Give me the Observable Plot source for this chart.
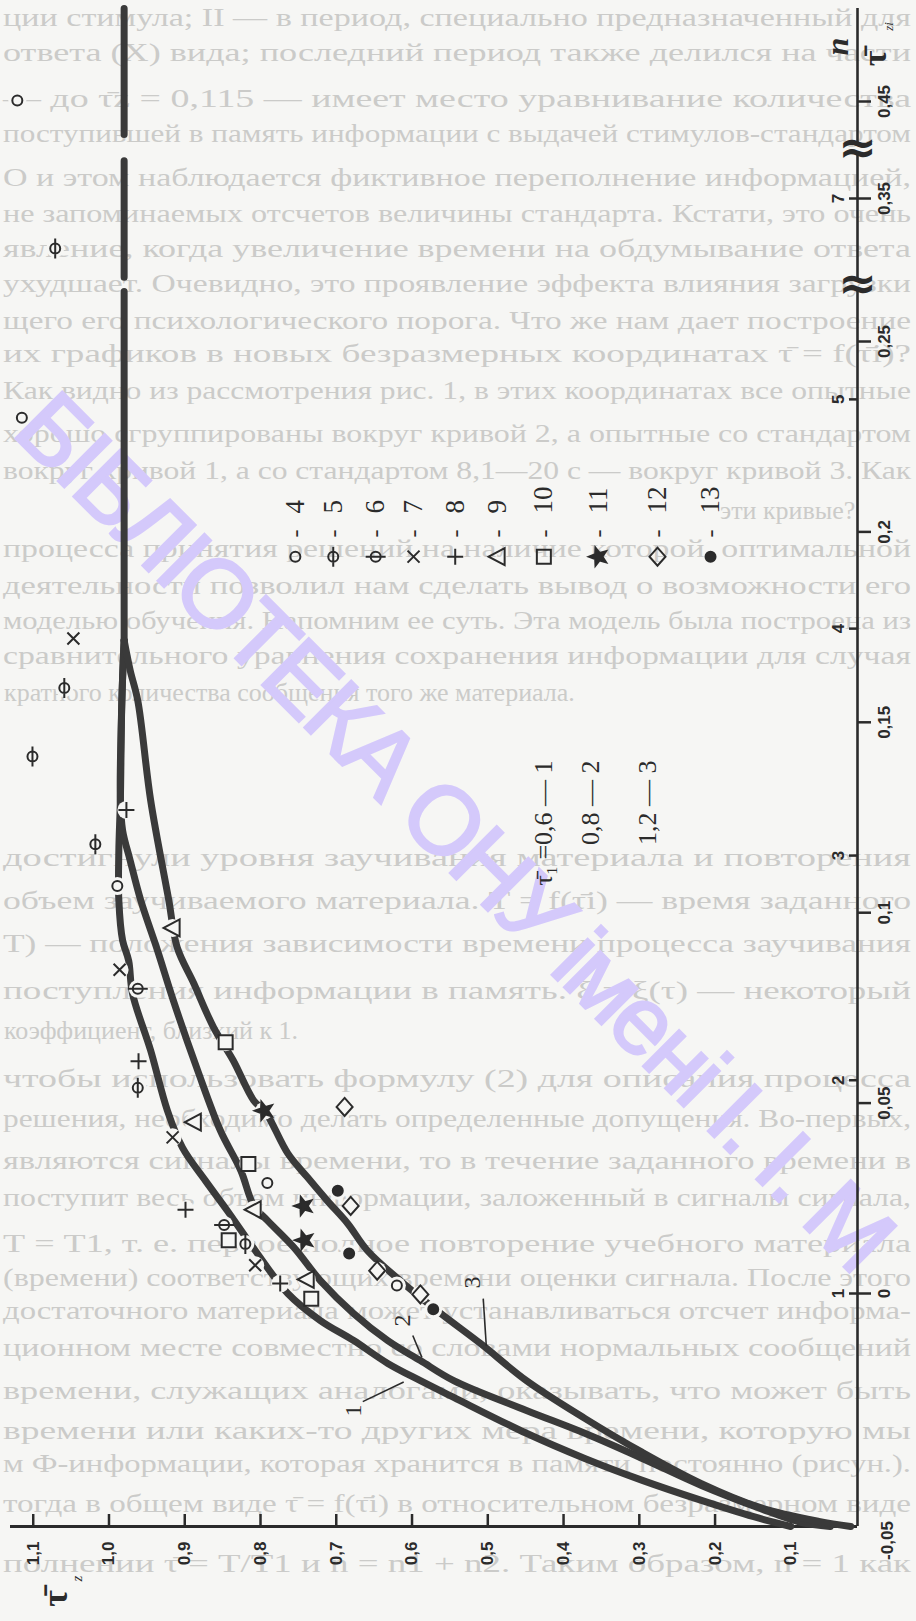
<!DOCTYPE html>
<html>
<head>
<meta charset="utf-8">
<script src="https://cdn.jsdelivr.net/npm/d3@7"></script>
<script src="https://cdn.jsdelivr.net/npm/@observablehq/plot@0.6"></script>
<style>
  html, body { margin: 0; padding: 0; background: #f6f6f4; }
  #wrap { position: relative; width: 916px; height: 1621px; overflow: hidden; background: #f6f6f4; }
  #wrap > svg, #wrap > div { position: absolute; left: 0; top: 0; }
</style>
</head>
<body>
<div id="wrap"></div>
<script>
// ---------------- DATA ----------------
// bottom axis: τ̄z (drawn reversed, 1,1 at left)
const xTicks = [1.1, 1.0, 0.9, 0.8, 0.7, 0.6, 0.5, 0.4, 0.3, 0.2, 0.1];
const xTickLabels = ["1,1", "1,0", "0,9", "0,8", "0,7", "0,6", "0,5", "0,4", "0,3", "0,2", "0,1"];
// right axis: τ̄zi (outer labels) and n (inner labels)
const ziTicks = [0, 0.05, 0.1, 0.15, 0.2, 0.25, 0.35, 0.45];
const ziTickLabels = ["0", "0,05", "0,1", "0,15", "0,2", "0,25", "0,35", "0,45"];
const nTicks = [1, 2, 3, 4, 5, 7];
const nTickAt = [0, 0.056, 0.115, 0.1746, 0.2348, 0.35];   // τ̄zi level of each n tick
const axisBreaks = [0.29, 0.402];                          // broken-axis marks

// common vertical stem of the curves (gaps at the axis breaks)
const stemTz  = [0.98, 0.98, null, 0.98, 0.98, null, 0.98, 0.98];
const stemTzi = [0.546, 0.416, null, 0.389, 0.295, null, 0.285, 0.1715];

// curve 1 (τ̄1 = 0,6)
const c1Tz  = [0.98, 0.983, 0.985, 0.987, 0.987, 0.982, 0.974, 0.969, 0.945, 0.923, 0.903, 0.873, 0.844, 0.807, 0.764, 0.721, 0.677, 0.632, 0.589, 0.545, 0.449, 0.372, 0.296, 0.218, 0.149, 0.100];
const c1Tzi = [0.1715, 0.1557, 0.1295, 0.1163, 0.1032, 0.0927, 0.0874, 0.0788, 0.0638, 0.0481, 0.0383, 0.0297, 0.0218, 0.0113, 0, -0.0058, -0.0101, -0.0150, -0.0187, -0.0223, -0.0300, -0.0354, -0.0401, -0.0444, -0.0479, -0.05];
// curve 2 (τ̄1 = 0,8)
const c2Tz  = [0.98, 0.983, 0.985, 0.982, 0.972, 0.958, 0.936, 0.915, 0.883, 0.853, 0.826, 0.809, 0.791, 0.756, 0.721, 0.677, 0.632, 0.589, 0.545, 0.449, 0.372, 0.296, 0.218, 0.141, 0.087, 0.048];
const c2Tzi = [0.1715, 0.1557, 0.1295, 0.1216, 0.1137, 0.1032, 0.0901, 0.0769, 0.0586, 0.0428, 0.0323, 0.0231, 0.0192, 0.0121, 0.0034, -0.0043, -0.0101, -0.0144, -0.0187, -0.0251, -0.0300, -0.0354, -0.0412, -0.0461, -0.0491, -0.05];
// curve 3 (τ̄1 = 1,2)
const c3Tz  = [0.98, 0.972, 0.962, 0.945, 0.921, 0.910, 0.888, 0.862, 0.836, 0.809, 0.793, 0.764, 0.738, 0.712, 0.685, 0.659, 0.611, 0.562, 0.510, 0.449, 0.372, 0.296, 0.218, 0.141, 0.063, 0.021];
const c3Tzi = [0.1715, 0.1636, 0.1557, 0.1295, 0.1032, 0.0909, 0.0814, 0.0699, 0.0612, 0.0507, 0.0475, 0.0368, 0.0305, 0.0244, 0.0184, 0.0113, 0.0026, -0.0043, -0.0107, -0.0187, -0.0268, -0.0341, -0.0408, -0.0459, -0.0489, -0.05];

// experimental points: series number (4..13), τ̄z, τ̄zi
const ptType = [4, 5, 4, 7, 5, 5, 8, 5, 4, 9, 7, 6, 10, 8, 5, 11, 12, 9, 7, 10, 4, 13, 12, 8, 9, 11, 6, 10, 5, 11, 13, 7, 12, 8, 9, 10, 4, 12, 13];
const ptTz   = [1.121, 1.071, 1.115, 1.047, 1.059, 1.101, 0.977, 1.018, 0.989, 0.916, 0.986, 0.962, 0.846, 0.961, 0.962, 0.795, 0.689, 0.888, 0.916, 0.816, 0.791, 0.698, 0.681, 0.899, 0.809, 0.743, 0.848, 0.842, 0.820, 0.742, 0.683, 0.807, 0.646, 0.774, 0.739, 0.733, 0.620, 0.589, 0.572];
const ptTzi  = [0.451, 0.315, 0.230, 0.172, 0.159, 0.141, 0.127, 0.118, 0.107, 0.096, 0.085, 0.080, 0.066, 0.061, 0.054, 0.048, 0.049, 0.045, 0.041, 0.034, 0.029, 0.027, 0.023, 0.022, 0.022, 0.023, 0.018, 0.014, 0.013, 0.014, 0.0105, 0.0074, 0.006, 0.0026, 0.0037, -0.0011, 0.0021, -0.0002, -0.0034];

// legend
const legendSeries = [4, 5, 6, 7, 8, 9, 10, 11, 12, 13];
const curveTau1 = ["τ\u0304\u2081 =0,6 — 1", "0,8 — 2", "1,2 — 3"];
const curveNames = ["1", "2", "3"];

// ---------------- LAYOUT (not data) ----------------
const legendTz = [0.754, 0.704, 0.648, 0.598, 0.543, 0.487, 0.426, 0.354, 0.276, 0.206];
const legendMarkTzi = 0.1935, legendDashTzi = 0.1996, legendNumTzi = 0.2048;
const tau1Tz = [0.426, 0.364, 0.289], tau1Tzi = 0.140;
const curveLabelPos = [{tz: 0.677, tzi: -0.0251}, {tz: 0.613, tzi: -0.0058}, {tz: 0.520, tzi: 0.0029}];
const leaderPos = [
  {x1: 0.665, y1: -0.0232, x2: 0.611, y2: -0.0190},
  {x1: 0.599, y1: -0.0090, x2: 0.587, y2: -0.0137},
  {x1: 0.506, y1: -0.0011, x2: 0.502, y2: -0.0112}
];

const BG = "#f6f6f4", INK = "#2b2b2b", LINE = "#3a3a3a";
const xDomain = [1.13, 0.012];
const yDomain = [-0.05, 0, 0.25, 0.35, 0.45, 0.546];
const xStart = xDomain[0], xEnd = xDomain[1];
const yBottom = yDomain[0], yTop = yDomain[yDomain.length - 1];

// ---------------- background page text + watermark ----------------
const bgLines = [
  [17, "ции стимула; II — в период, специально предназначенный для"],
  [52, "ответа (Х) вида; последний период также делился на части"],
  [98, "— до  τ̄z = 0,115 — имеет место уравнивание количества"],
  [133, "поступившей в память информации с выдачей стимулов-стандартом"],
  [177, "О и этом наблюдается фиктивное переполнение информацией,"],
  [213, "не запоминаемых отсчетов величины стандарта. Кстати, это очень"],
  [248, "явление, когда увеличение времени на обдумывание ответа"],
  [283, "ухудшает. Очевидно, это проявление эффекта влияния загрузки"],
  [320, "щего его психологического порога. Что же нам дает построение"],
  [353, "их графиков в новых безразмерных координатах τ̄ = f(τ̄i)?"],
  [390, "Как видно из рассмотрения рис. 1, в этих координатах все опытные"],
  [433, "хорошо сгруппированы вокруг кривой 2, а опытные со стандартом"],
  [470, "вокруг кривой 1, а со стандартом 8,1—20 с — вокруг кривой 3. Как"],
  [548, "процесса принятия решений на наличие которой, оптимальной"],
  [585, "деятельности позволил нам сделать вывод о возможности его"],
  [620, "моделью обучения. Напомним ее суть. Эта модель была построена из"],
  [655, "сравнительного уравнения сохранения информации для случая"],
  [857, "достигнули уровня заучивания материала и повторения"],
  [900, "объем заучиваемого материала. Т = f(τ̄i) — время заданного"],
  [943, "Т) — положения зависимости времени процесса заучивания"],
  [990, "поступления информации в память. ξ = ξ(τ) — некоторый"],
  [1078, "чтобы использовать формулу (2) для описания процесса"],
  [1118, "решения, необходимо делать определенные допущения. Во-первых,"],
  [1160, "являются сигналы времени, то в течение заданного времени в"],
  [1197, "поступит весь объем информации, заложенный в сигналы сигнала,"],
  [1243, "Т = Т1, т. е. первое полное повторение учебного материала"],
  [1277, "(времени) соответствующих времени оценки сигнала. После этого"],
  [1310, "достаточного материала может устанавливаться отсчет информа-"],
  [1347, "ционном месте совместно со словами нормальных сообщений"],
  [1390, "времени, служащих аналогами, оказывать, что может быть"],
  [1430, "времени или каких-то других мера времени, которую мы"],
  [1463, "м Ф-информации, которая хранится в памяти постоянно (рисун.)."],
  [1503, "тогда в общем виде τ̄ = f(τ̄i) в относительном безразмерном виде"],
  [1563, "полнении τ̄ = Т/Т1 и n = n1 + n2. Таким образом, n = 1 как"]
];
const bgShort = [
  [510, 720, "эти кривые?"],
  [692, 4, "кратного количества сообщения того же материала."],
  [1030, 4, "коэффициент, близкий к 1."]
];

const wrap = d3.select("#wrap");
const bgSvg = wrap.append("svg").attr("width", 916).attr("height", 1621);
bgSvg.selectAll("text.l").data(bgLines).join("text")
  .attr("x", 3).attr("y", d => d[0] + 9)
  .attr("textLength", 908).attr("lengthAdjust", "spacingAndGlyphs")
  .attr("font-family", "Liberation Serif").attr("font-size", 26)
  .attr("fill", "#cbcbc9").text(d => d[1]);
bgSvg.selectAll("text.s").data(bgShort).join("text")
  .attr("x", d => d[1]).attr("y", d => d[0] + 9)
  .attr("font-family", "Liberation Serif").attr("font-size", 26)
  .attr("fill", "#cbcbc9").text(d => d[2]);
// library watermark
bgSvg.append("text")
  .attr("transform", "translate(10,433) rotate(45)")
  .attr("font-family", "Liberation Sans").attr("font-size", 96)
  .attr("fill", "#d4c9fb").attr("stroke", "#d4c9fb").attr("stroke-width", 2.5)
  .attr("textLength", 1195).attr("lengthAdjust", "spacing")
  .text("БІБЛІОТЕКА ОНУ імені І. І. М");

// ---------------- symbols ----------------
const sym = {
  4: {draw(c) { c.moveTo(5, 0); c.arc(0, 0, 5, 0, 2 * Math.PI); }},
  5: {draw(c) { c.moveTo(5, 0); c.arc(0, 0, 5, 0, 2 * Math.PI); c.moveTo(0, -10); c.lineTo(0, 10); }},
  6: {draw(c) { c.moveTo(5, 0); c.arc(0, 0, 5, 0, 2 * Math.PI); c.moveTo(-10, 0); c.lineTo(10, 0); }},
  7: {draw(c) { c.moveTo(-6, -6); c.lineTo(6, 6); c.moveTo(-6, 6); c.lineTo(6, -6); }},
  8: {draw(c) { c.moveTo(-8, 0); c.lineTo(8, 0); c.moveTo(0, -8); c.lineTo(0, 8); }},
  9: {draw(c) { c.moveTo(-9, 0); c.lineTo(7, -8.5); c.lineTo(7, 8.5); c.closePath(); }},
  10: {draw(c) { c.moveTo(-7, -7); c.lineTo(7, -7); c.lineTo(7, 7); c.lineTo(-7, 7); c.closePath(); }},
  11: {draw(c) {
    const R = 9.5, r = 4;
    for (let k = 0; k < 10; k++) {
      const a = Math.PI + k * Math.PI / 5, rr = k % 2 ? r : R;
      const px = rr * Math.cos(a), py = rr * Math.sin(a);
      k ? c.lineTo(px, py) : c.moveTo(px, py);
    }
    c.closePath();
  }},
  12: {draw(c) { c.moveTo(0, -9); c.lineTo(8, 0); c.lineTo(0, 9); c.lineTo(-8, 0); c.closePath(); }},
  13: {draw(c) { c.moveTo(5, 0); c.arc(0, 0, 5, 0, 2 * Math.PI); }}
};
const filled = new Set([11, 13]);

// ---------------- tables ----------------
const rows = (tz, tzi) => tz.map((v, i) => ({tz: v, tzi: tzi[i]}));
const stem = rows(stemTz, stemTzi);
const curves = [rows(c1Tz, c1Tzi), rows(c2Tz, c2Tzi), rows(c3Tz, c3Tzi)];
const pts = ptType.map((t, i) => ({type: t, tz: ptTz[i], tzi: ptTzi[i]}));
const legend = legendSeries.map((s, i) => ({type: s, tz: legendTz[i]}));
const axisSegs = [
  {a: yBottom, b: axisBreaks[0] - 0.003},
  {a: axisBreaks[0] + 0.003, b: axisBreaks[1] - 0.004},
  {a: axisBreaks[1] + 0.004, b: yTop}
];

const bold = {fontFamily: "Liberation Sans", fontWeight: "bold", fill: INK, textAnchor: "middle", lineAnchor: "middle"};
const serif = {fontFamily: "Liberation Serif", fill: INK, lineAnchor: "middle"};

const marks = [
  // axes
  Plot.ruleY([yBottom], {stroke: INK, strokeWidth: 3}),
  Plot.ruleX(axisSegs, {x: () => xEnd, y1: "a", y2: "b", stroke: INK, strokeWidth: 2.6}),
  Plot.tickX(xTicks, {x: d => d, insetTop: 1506, stroke: INK, strokeWidth: 2.5}),
  Plot.text(xTicks, {x: d => d, y: yBottom, dy: 15, text: (d, i) => xTickLabels[i], rotate: -90, fontSize: 17, ...bold, textAnchor: "end"}),
  Plot.axisY({ticks: ziTicks, anchor: "right", tickSize: 13, tickFormat: () => "", label: null, stroke: INK, strokeWidth: 2.5}),
  Plot.tickY(nTickAt, {y: d => d, insetLeft: 839, stroke: INK, strokeWidth: 2.5}),
  Plot.text(ziTicks, {x: xEnd, y: d => d, dx: 27, text: (d, i) => ziTickLabels[i], rotate: -90, fontSize: 17, ...bold}),
  Plot.text(["-0,05"], {x: xEnd, y: yBottom, dx: 30, dy: 14, text: d => d, rotate: -90, fontSize: 17, ...bold}),
  Plot.text(nTicks, {x: xEnd, y: (d, i) => nTickAt[i], dx: -19, text: d => String(d), rotate: -90, fontSize: 17, ...bold}),
  Plot.text(axisBreaks, {x: xEnd, y: d => d, text: () => "≈", fontSize: 46, ...bold, fontFamily: "DejaVu Sans"}),
  // axis titles
  Plot.text(["n"], {x: xEnd, y: yTop, dx: -20, dy: 38, text: d => d, rotate: -90, fontSize: 32, ...serif, fontStyle: "italic", fontWeight: "bold", textAnchor: "middle"}),
  Plot.text(["τ\u0304"], {x: xEnd, y: yTop, dx: 18, dy: 50, text: d => d, rotate: -90, fontSize: 34, ...serif, fontWeight: "bold", textAnchor: "middle"}),
  Plot.text(["zi"], {x: xEnd, y: yTop, dx: 31, dy: 18, text: d => d, rotate: -90, fontSize: 13, ...serif, fontStyle: "italic", textAnchor: "middle"}),
  Plot.text(["τ\u0304"], {x: xStart, y: yBottom, dx: 45, dy: 72, text: d => d, rotate: -90, fontSize: 36, ...serif, fontWeight: "bold", textAnchor: "middle"}),
  Plot.text(["z"], {x: xStart, y: yBottom, dx: 67, dy: 52, text: d => d, rotate: -90, fontSize: 15, ...serif, fontStyle: "italic", textAnchor: "middle"}),
  // curves
  Plot.line(stem, {x: "tz", y: "tzi", stroke: LINE, strokeWidth: 7}),
  ...curves.map(c => Plot.line(c, {x: "tz", y: "tzi", curve: "catmull-rom", stroke: LINE, strokeWidth: 7, strokeLinecap: "round"})),
  Plot.link(leaderPos, {x1: "x1", y1: "y1", x2: "x2", y2: "y2", stroke: INK, strokeWidth: 1.6}),
  Plot.text(curveLabelPos, {x: "tz", y: "tzi", text: (d, i) => curveNames[i], rotate: -90, fontSize: 24, ...serif, textAnchor: "middle"}),
  // point halos (lines are broken at the markers)
  Plot.dot(pts, {x: "tz", y: "tzi", r: 9, fill: BG, stroke: "none"}),
  ...legendSeries.map(s => Plot.dot(pts.filter(p => p.type === s), {
    x: "tz", y: "tzi", r: 5, symbol: sym[s],
    fill: filled.has(s) ? INK : "none", stroke: INK, strokeWidth: 2
  })),
  // legend of series
  ...legendSeries.map(s => Plot.dot(legend.filter(p => p.type === s), {
    x: "tz", y: legendMarkTzi, r: 5, symbol: sym[s],
    fill: filled.has(s) ? INK : "none", stroke: INK, strokeWidth: 2
  })),
  Plot.text(legend, {x: "tz", y: legendDashTzi, text: () => "-", rotate: -90, fontSize: 24, ...serif, textAnchor: "middle"}),
  Plot.text(legend, {x: "tz", y: legendNumTzi, text: d => String(d.type), rotate: -90, fontSize: 27, ...serif, textAnchor: "start"}),
  // legend of curves
  Plot.text(curveTau1, {x: (d, i) => tau1Tz[i], y: tau1Tzi, text: d => d, rotate: -90, fontSize: 26, ...serif, textAnchor: "end"})
];

const chart = Plot.plot({
  width: 916, height: 1621,
  marginLeft: 10, marginRight: 59, marginTop: 8, marginBottom: 95,
  style: {background: "transparent", overflow: "visible"},
  x: {domain: xDomain, axis: null},
  y: {type: "linear", domain: yDomain, range: [1526, 1293, 341, 198, 101, 8], axis: null},
  marks
});
const holder = wrap.append("div").node();
holder.appendChild(chart);
</script>
</body>
</html>
